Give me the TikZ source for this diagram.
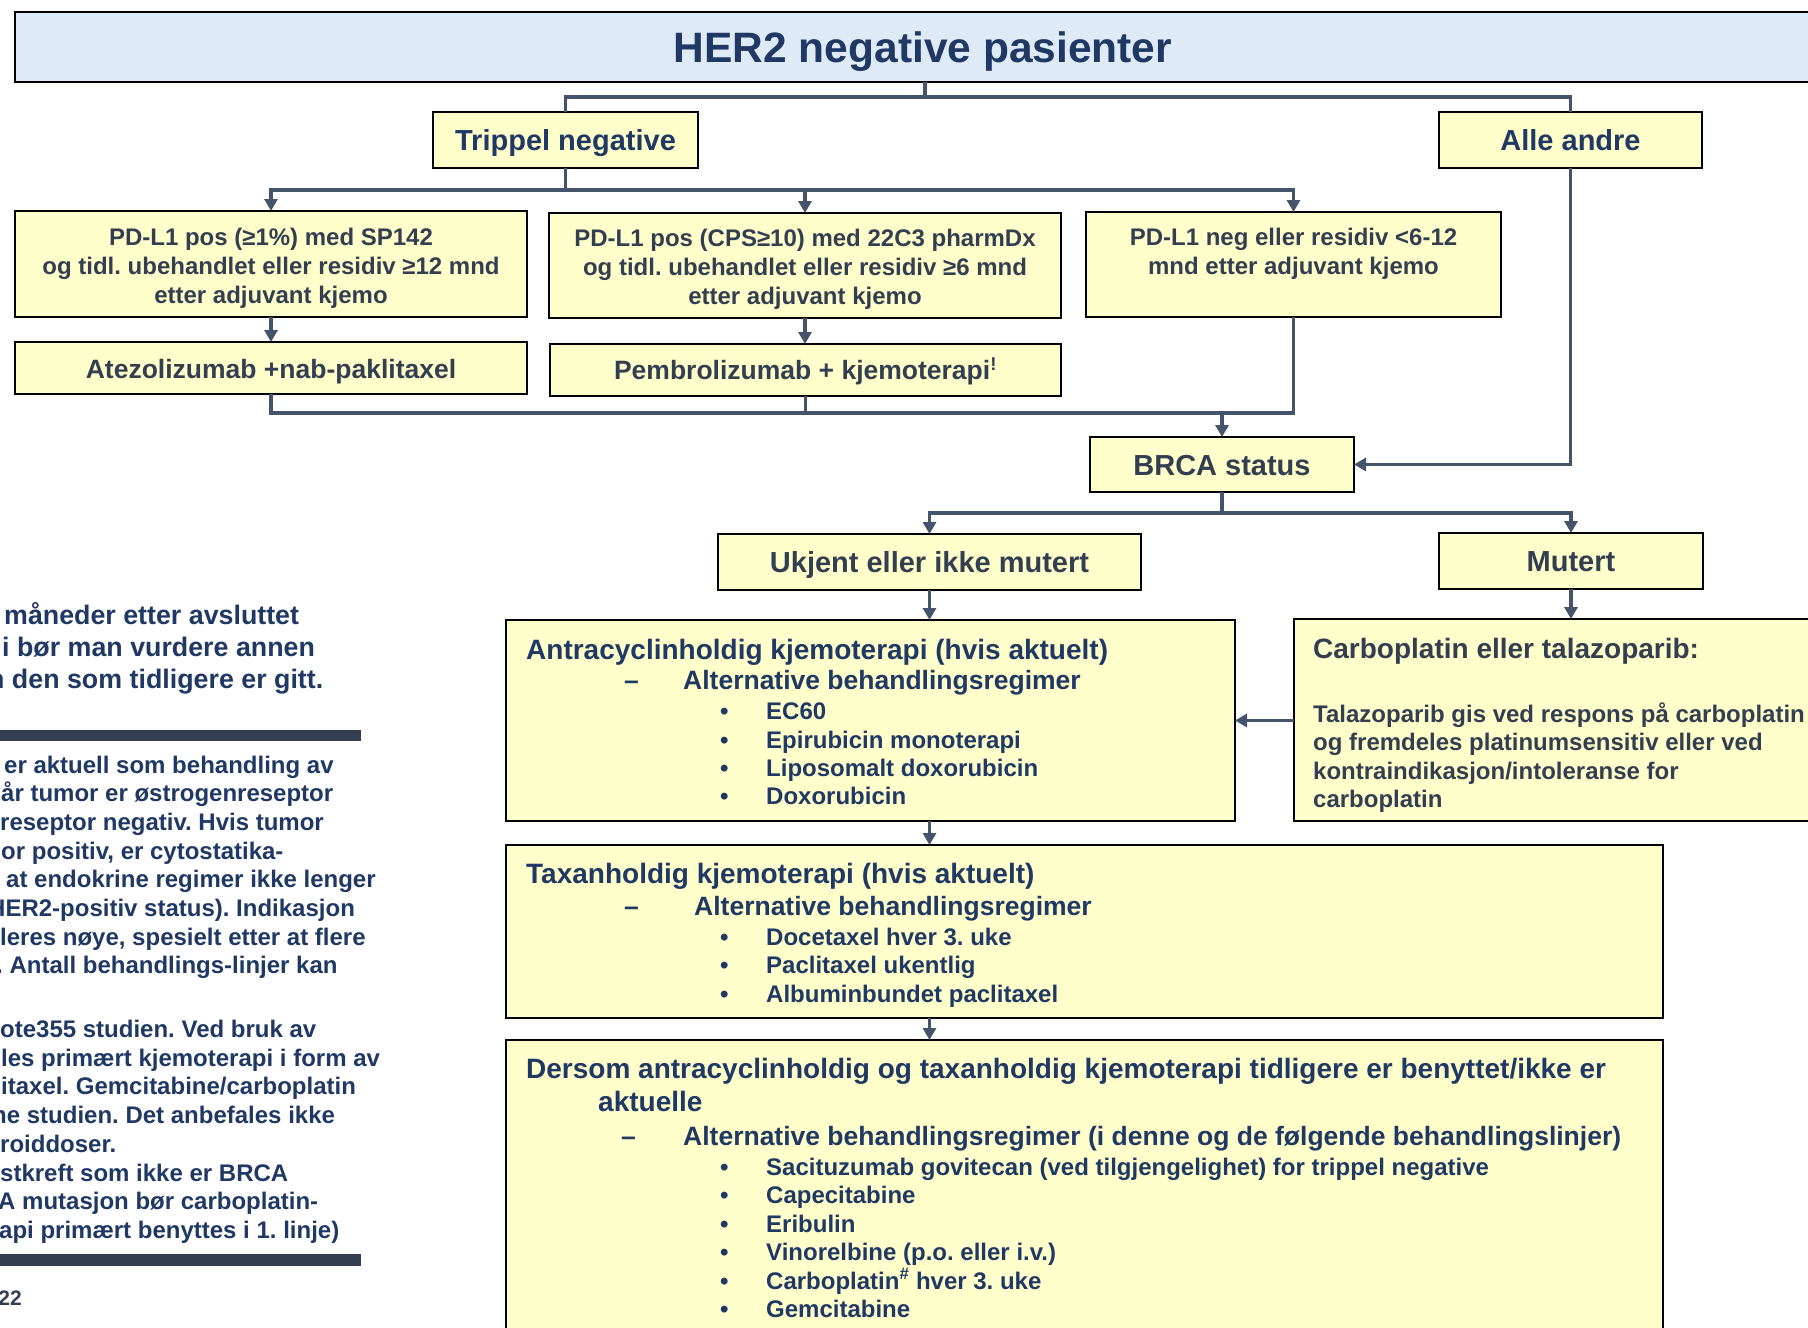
\documentclass[tikz,border=0pt]{standalone}
\usepackage{fontspec}
\setmainfont{Liberation Sans}
\usetikzlibrary{arrows.meta}
\definecolor{navy}{HTML}{1F3864}
\definecolor{dgray}{HTML}{333F50}
\definecolor{slate}{HTML}{44546A}
\definecolor{byellow}{HTML}{FFFFCC}
\definecolor{tblue}{HTML}{DEEAF6}
\newcommand\fsz[2]{\fontsize{#1}{#2}\selectfont}
\frenchspacing
\begin{document}
\frenchspacing
\begin{tikzpicture}[x=1pt,y=-1pt,
  box/.style={draw=black, line width=1.6pt, fill=byellow, inner sep=0pt, outer sep=0pt, anchor=north west},
  sbox/.style={box, font=\bfseries\fsz{29}{35}, text height=22pt, text depth=1pt},
  conn/.style={draw=slate, line width=3.5pt},
  arr/.style={conn, -{Triangle[length=12pt,width=13pt]}},
  tl/.style={inner sep=0pt, anchor=base west, text=navy},
  hA/.style={tl, font=\bfseries\fsz{28}{34}},
  hB/.style={tl, font=\bfseries\fsz{26.5}{32}},
  hC/.style={tl, font=\bfseries\fsz{24}{29}},
  lA/.style={tl, font=\bfseries\fsz{26.8}{32}},
  lB/.style={tl, font=\bfseries\fsz{24}{29}},
  bar/.style={fill=dgray, draw=none}
]
\useasboundingbox (0,0) rectangle (1808,1328);
\clip (0,0) rectangle (1808,1328);

% ---------- boxes ----------
\node[box, fill=tblue, minimum width=1830pt, minimum height=70pt] (title) at (15,12) {};
\node[inner sep=0pt, anchor=base, text=navy, font=\bfseries\fsz{42.5}{50}] (ttl) at (923,62) {HER2 negative pasienter};

\node[sbox, text=navy, minimum width=265pt, minimum height=56pt] (trip) at (433,112) {Trippel negative};
\node[sbox, text=navy, minimum width=263pt, minimum height=56pt] (alle) at (1439,112) {Alle andre};

\node[box, minimum width=512pt, minimum height=106pt] (pd1) at (15,211) {};
\node[inner sep=0pt, align=center, text=dgray, font=\bfseries\fsz{24}{29}] (pd1t) at (271,268)
  {PD-L1 pos (≥1\%) med SP142\\og tidl. ubehandlet eller residiv ≥12 mnd\\etter adjuvant kjemo};
\node[box, minimum width=512pt, minimum height=105pt] (pd2) at (549,213) {};
\node[inner sep=0pt, align=center, text=dgray, font=\bfseries\fsz{24}{29}] (pd2t) at (805,269)
  {PD-L1 pos (CPS≥10) med 22C3 pharmDx\\og tidl. ubehandlet eller residiv ≥6 mnd\\etter adjuvant kjemo};
\node[box, minimum width=415pt, minimum height=105pt] (pd3) at (1086,212) {};
\node[inner sep=0pt, align=center, text=dgray, font=\bfseries\fsz{24}{29}] (pd3t) at (1293.5,253.5)
  {PD-L1 neg eller residiv <6-12\\mnd etter adjuvant kjemo};

\node[box, minimum width=512pt, minimum height=52pt, text=dgray, font=\bfseries\fsz{26.5}{32}, text height=22pt, text depth=1pt] (atezo) at (15,342) {Atezolizumab +nab-paklitaxel};
\node[box, minimum width=511pt, minimum height=52pt, text=dgray, font=\bfseries\fsz{26.5}{32}, text height=20pt, text depth=1pt] (pembro) at (550,344) {Pembrolizumab + kjemoterapi\textsuperscript{!}};

\node[sbox, text=dgray, minimum width=264pt, minimum height=55pt] (brca) at (1090,437) {BRCA status};
\node[sbox, text=dgray, minimum width=423pt, minimum height=56pt] (ukj) at (718,534) {Ukjent eller ikke mutert};
\node[sbox, text=dgray, minimum width=264pt, minimum height=56pt] (mut) at (1439,533) {Mutert};

\node[box, minimum width=729pt, minimum height=201pt] (antra) at (506,620) {};
\node[box, minimum width=560pt, minimum height=202pt] (carbo) at (1294,619) {};
\node[box, minimum width=1157pt, minimum height=173pt] (taxan) at (506,845) {};
\node[box, minimum width=1157pt, minimum height=320pt] (dersom) at (506,1040) {};

% ---------- connectors ----------
\coordinate (j1) at (925,97);
\draw[conn] (j1 |- title.south) -- (j1);
\draw[conn] (trip.north) |- (j1) -| (alle.north);
\coordinate (j2) at (565.5,190);
\draw[conn] (trip.south) -- (j2);
\draw[arr] (j2) -| (pd1.north);
\draw[arr] (j2) -| (pd2.north);
\draw[arr] (j2) -| (pd3.north);
\draw[arr] (pd1.south) -- (pd1.south |- atezo.north);
\draw[arr] (pd2.south) -- (pd2.south |- pembro.north);
\coordinate (j3) at (1222,413);
\draw[conn] (atezo.south) |- (j3);
\draw[conn] (pembro.south) -- (pembro.south |- j3);
\draw[conn] (pd3.south) |- (j3);
\draw[arr] (j3) -- (brca.north);
\draw[arr] (alle.south) |- (brca.east);
\coordinate (j4) at (1222,513);
\draw[conn] (brca.south) -- (j4);
\draw[arr] (j4) -| (ukj.north);
\draw[arr] (j4) -| (mut.north);
\draw[arr] (ukj.south) -- (ukj.south |- antra.north);
\draw[arr] (mut.south) -- (mut.south |- carbo.north);
\draw[arr] (carbo.west |- antra.east) -- (antra.east);
\draw[arr] (ukj.south |- antra.south) -- (ukj.south |- taxan.north);
\draw[arr] (ukj.south |- taxan.south) -- (ukj.south |- dersom.north);

% ---------- antracyclin box ----------
\node[hA] (a0) at (526,659) {Antracyclinholdig kjemoterapi (hvis aktuelt)};
\node[hB] (a1d) at (624,689) {–};
\node[hB] (a1) at (683,689) {Alternative behandlingsregimer};
\node[hC] (ab1) at (720,719.5) {•}; \node[hC] (ai1) at (766,719.5) {EC60};
\node[hC] (ab2) at (720,748) {•}; \node[hC] (ai2) at (766,748) {Epirubicin monoterapi};
\node[hC] (ab3) at (720,776) {•}; \node[hC] (ai3) at (766,776) {Liposomalt doxorubicin};
\node[hC] (ab4) at (720,804.5) {•}; \node[hC] (ai4) at (766,804.5) {Doxorubicin};

% ---------- carboplatin box ----------
\node[hA, text=dgray] (c0) at (1313,658) {Carboplatin eller talazoparib:};
\node[hC, text=dgray] (c1) at (1313,722) {Talazoparib gis ved respons på carboplatin};
\node[hC, text=dgray] (c2) at (1313,750.5) {og fremdeles platinumsensitiv eller ved};
\node[hC, text=dgray] (c3) at (1313,779) {kontraindikasjon/intoleranse for};
\node[hC, text=dgray] (c4) at (1313,807.5) {carboplatin};

% ---------- taxan box ----------
\node[hA] (t0) at (526,883.5) {Taxanholdig kjemoterapi (hvis aktuelt)};
\node[hB] (t1d) at (624,915) {–};
\node[hB] (t1) at (694,915) {Alternative behandlingsregimer};
\node[hC] (tb1) at (720,945) {•}; \node[hC] (ti1) at (766,945) {Docetaxel hver 3. uke};
\node[hC] (tb2) at (720,973.5) {•}; \node[hC] (ti2) at (766,973.5) {Paclitaxel ukentlig};
\node[hC] (tb3) at (720,1002) {•}; \node[hC] (ti3) at (766,1002) {Albuminbundet paclitaxel};

% ---------- dersom box ----------
\node[hA] (d0) at (526,1078.5) {Dersom antracyclinholdig og taxanholdig kjemoterapi tidligere er benyttet/ikke er};
\node[hA] (d0b) at (598,1111.5) {aktuelle};
\node[hB] (d1d) at (621,1145) {–};
\node[hB] (d1) at (683,1145) {Alternative behandlingsregimer (i denne og de følgende behandlingslinjer)};
\node[hC] (db1) at (720,1175) {•}; \node[hC] (di1) at (766,1175) {Sacituzumab govitecan (ved tilgjengelighet) for trippel negative};
\node[hC] (db2) at (720,1203.5) {•}; \node[hC] (di2) at (766,1203.5) {Capecitabine};
\node[hC] (db3) at (720,1232) {•}; \node[hC] (di3) at (766,1232) {Eribulin};
\node[hC] (db4) at (720,1260.5) {•}; \node[hC] (di4) at (766,1260.5) {Vinorelbine (p.o. eller i.v.)};
\node[hC] (db5) at (720,1289) {•}; \node[hC] (di5) at (766,1289) {Carboplatin\textsuperscript{\#} hver 3. uke};
\node[hC] (db6) at (720,1317.5) {•}; \node[hC] (di6) at (766,1317.5) {Gemcitabine};

% ---------- left side text ----------
\node[lA] (l1) at (4,624) {måneder etter avsluttet};
\node[lA] (l2) at (2,656) {i bør man vurdere annen};
\node[lA] (l3) at (-12,688) {n den som tidligere er gitt.};
\path[bar] (0,730) rectangle (361,741) coordinate (bar1);
\node[lB] (m1) at (4,773) {er aktuell som behandling av};
\node[lB] (m2) at (1,801.7) {år tumor er østrogenreseptor};
\node[lB] (m3) at (0,830.4) {reseptor negativ. Hvis tumor};
\node[lB] (m4) at (1,859.1) {or positiv, er cytostatika-};
\node[lB] (m5) at (6,887.8) {at endokrine regimer ikke lenger};
\node[lB] (m6) at (-12,916.5) {HER2-positiv status). Indikasjon};
\node[lB] (m7) at (0,945.2) {leres nøye, spesielt etter at flere};
\node[lB] (m8) at (-4,973.9) {. Antall behandlings-linjer kan};
\node[lB] (m9) at (0,1037.5) {ote355 studien. Ved bruk av};
\node[lB] (m10) at (1,1066.2) {les primært kjemoterapi i form av};
\node[lB] (m11) at (1,1094.9) {itaxel. Gemcitabine/carboplatin};
\node[lB] (m12) at (-8,1123.6) {ne studien. Det anbefales ikke};
\node[lB] (m13) at (0,1152.3) {roiddoser.};
\node[lB] (m14) at (0,1181) {stkreft som ikke er BRCA};
\node[lB] (m15) at (-2,1209.7) {A mutasjon bør carboplatin-};
\node[lB] (m16) at (-1,1238.4) {api primært benyttes i 1. linje)};
\path[bar] (0,1254) rectangle (361,1266) coordinate (bar2);
\node[inner sep=0pt, anchor=base east, text=dgray, font=\bfseries\fsz{21}{25}] (pg) at (22,1305) {22};
\end{tikzpicture}
\end{document}
